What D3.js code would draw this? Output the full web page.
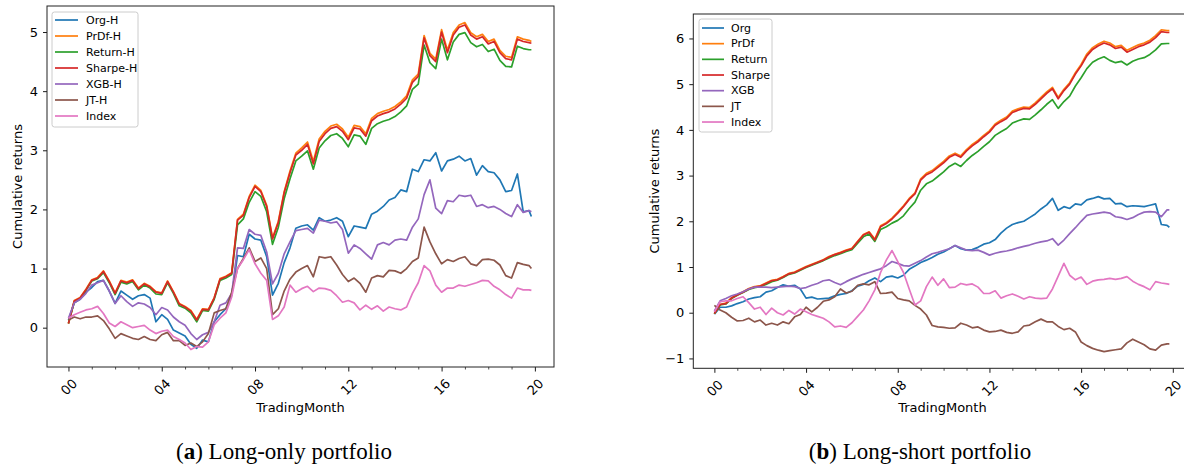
<!DOCTYPE html>
<html>
<head>
<meta charset="utf-8">
<script src="https://cdn.jsdelivr.net/npm/d3@7"></script>
<style>
  html, body { margin: 0; padding: 0; background: #fff; }
  svg { display: block; }
</style>
</head>
<body>
<svg id="chart" width="1184" height="465"></svg>
<script>
// Trading-month grid (quarter-month steps, last point at the final trading day)
const months = d3.range(0, 20, 0.25).concat([19.85]);
const tickMonths = [0, 4, 8, 12, 16, 20];
const tickLabels = ["00", "04", "08", "12", "16", "20"];
const minorMonths = d3.range(1, 20).filter(m => m % 4 !== 0);

const longOnlyNames = ["Org-H", "PrDf-H", "Return-H", "Sharpe-H", "XGB-H", "JT-H", "Index"];
const longShortNames = ["Org", "PrDf", "Return", "Sharpe", "XGB", "JT", "Index"];
const seriesColors = ["#1f77b4", "#ff7f0e", "#2ca02c", "#d62728", "#9467bd", "#8c564b", "#e377c2"];

const longOnlyYTicks = [0, 1, 2, 3, 4, 5];
const longShortYTicks = [-1, 0, 1, 2, 3, 4, 5, 6];

// ---- Long-only portfolio: cumulative returns ----
const longOnlyOrg = [
  0.13, 0.42, 0.48, 0.60, 0.68, 0.78, 0.80, 0.62, 0.41, 0.62,
  0.55, 0.48, 0.54, 0.56, 0.50, 0.10, 0.22, 0.14, -0.04, -0.09,
  -0.14, -0.28, -0.35, -0.21, -0.24, 0.10, 0.22, 0.32, 0.55, 1.22,
  1.20, 1.58, 1.50, 1.48, 1.20, 0.55, 0.75, 1.10, 1.35, 1.68,
  1.72, 1.74, 1.65, 1.86, 1.80, 1.82, 1.86, 1.80, 1.54, 1.72,
  1.70, 1.68, 1.92, 1.97, 2.05, 2.16, 2.20, 2.33, 2.30, 2.68,
  2.64, 2.84, 2.82, 2.96, 2.65, 2.82, 2.85, 2.90, 2.82, 2.86,
  2.58, 2.74, 2.64, 2.62, 2.50, 2.30, 2.32, 2.60, 1.96, 1.98,
  1.88
];
const longOnlyPrDf = [
  0.07, 0.46, 0.51, 0.65, 0.81, 0.85, 0.96, 0.79, 0.59, 0.80,
  0.77, 0.81, 0.67, 0.75, 0.70, 0.61, 0.59, 0.79, 0.61, 0.41,
  0.36, 0.29, 0.14, 0.32, 0.31, 0.51, 0.83, 0.87, 0.93, 1.83,
  1.92, 2.22, 2.41, 2.32, 2.07, 1.52, 1.80, 2.30, 2.65, 2.95,
  3.04, 3.14, 2.81, 3.19, 3.32, 3.41, 3.44, 3.36, 3.22, 3.42,
  3.40, 3.28, 3.54, 3.62, 3.66, 3.69, 3.74, 3.82, 3.92, 4.19,
  4.29, 4.94, 4.64, 4.54, 5.04, 4.69, 4.99, 5.12, 5.16, 4.99,
  4.92, 4.96, 4.84, 4.88, 4.69, 4.59, 4.57, 4.92, 4.88, 4.86,
  4.84
];
const longOnlyReturn = [
  0.07, 0.44, 0.49, 0.63, 0.79, 0.83, 0.93, 0.76, 0.56, 0.77,
  0.74, 0.78, 0.64, 0.72, 0.67, 0.57, 0.56, 0.76, 0.58, 0.37,
  0.33, 0.25, 0.10, 0.29, 0.28, 0.48, 0.80, 0.84, 0.90, 1.74,
  1.84, 2.12, 2.30, 2.22, 1.96, 1.41, 1.70, 2.18, 2.52, 2.82,
  2.90, 2.99, 2.68, 3.04, 3.16, 3.25, 3.28, 3.20, 3.06, 3.26,
  3.24, 3.10, 3.37, 3.45, 3.49, 3.52, 3.57, 3.65, 3.75, 4.03,
  4.12, 4.78, 4.48, 4.38, 4.88, 4.53, 4.83, 4.96, 4.99, 4.82,
  4.75, 4.79, 4.67, 4.71, 4.52, 4.42, 4.41, 4.76, 4.72, 4.70,
  4.70
];
const longOnlySharpe = [
  0.07, 0.45, 0.50, 0.64, 0.80, 0.84, 0.95, 0.78, 0.58, 0.79,
  0.76, 0.80, 0.66, 0.74, 0.69, 0.60, 0.58, 0.78, 0.60, 0.40,
  0.35, 0.28, 0.13, 0.31, 0.30, 0.50, 0.82, 0.86, 0.92, 1.82,
  1.90, 2.20, 2.39, 2.30, 2.05, 1.50, 1.78, 2.28, 2.62, 2.92,
  3.00, 3.10, 2.77, 3.15, 3.28, 3.37, 3.40, 3.32, 3.18, 3.38,
  3.36, 3.24, 3.50, 3.58, 3.62, 3.65, 3.70, 3.78, 3.88, 4.15,
  4.25, 4.90, 4.60, 4.50, 5.00, 4.65, 4.95, 5.08, 5.12, 4.95,
  4.88, 4.92, 4.80, 4.84, 4.65, 4.55, 4.53, 4.88, 4.84, 4.82,
  4.81
];
const longOnlyXGB = [
  0.16, 0.42, 0.48, 0.58, 0.72, 0.76, 0.80, 0.62, 0.41, 0.54,
  0.44, 0.36, 0.42, 0.40, 0.34, 0.22, 0.34, 0.30, 0.18, 0.10,
  0.04, -0.10, -0.20, -0.12, -0.08, 0.10, 0.38, 0.42, 0.58, 1.35,
  1.34, 1.66, 1.58, 1.56, 1.28, 0.74, 0.92, 1.25, 1.45, 1.64,
  1.66, 1.68, 1.60, 1.82, 1.80, 1.77, 1.79, 1.66, 1.26, 1.40,
  1.34, 1.25, 1.16, 1.40, 1.44, 1.40, 1.48, 1.50, 1.48, 1.70,
  1.84, 2.25, 2.50, 2.02, 1.93, 2.15, 2.13, 2.24, 2.22, 2.24,
  2.05, 2.08, 2.03, 2.05, 2.00, 1.93, 1.88, 2.08, 1.95, 1.98,
  1.96
];
const longOnlyJT = [
  0.13, 0.18, 0.15, 0.18, 0.18, 0.20, 0.12, -0.02, -0.18, -0.10,
  -0.14, -0.18, -0.20, -0.15, -0.20, -0.22, -0.12, -0.08, -0.22, -0.22,
  -0.30, -0.26, -0.32, -0.24, -0.10, 0.25, 0.29, 0.32, 0.60, 1.00,
  1.17, 1.35, 1.12, 1.18, 1.00, 0.22, 0.32, 0.62, 0.82, 0.94,
  1.00, 1.05, 0.86, 1.20, 1.18, 1.20, 1.06, 0.90, 0.78, 0.84,
  0.75, 0.60, 0.84, 0.88, 0.86, 0.97, 0.96, 0.92, 1.00, 1.12,
  1.18, 1.70, 1.45, 1.25, 1.08, 1.15, 1.12, 1.17, 1.20, 1.08,
  1.05, 1.15, 1.16, 1.14, 1.06, 0.88, 0.84, 1.10, 1.07, 1.05,
  1.00
];
const longOnlyIndex = [
  0.16, 0.22, 0.26, 0.30, 0.32, 0.36, 0.24, 0.08, 0.02, 0.10,
  0.05, 0.00, 0.02, 0.04, -0.04, -0.10, -0.06, -0.04, -0.15, -0.20,
  -0.26, -0.37, -0.32, -0.33, -0.24, 0.05, 0.16, 0.25, 0.52, 1.00,
  1.15, 1.32, 1.08, 0.92, 0.80, 0.14, 0.20, 0.35, 0.72, 0.60,
  0.66, 0.70, 0.61, 0.67, 0.66, 0.63, 0.54, 0.43, 0.46, 0.42,
  0.30, 0.38, 0.31, 0.37, 0.28, 0.35, 0.32, 0.30, 0.35, 0.58,
  0.76, 1.05, 0.96, 0.72, 0.60, 0.67, 0.67, 0.72, 0.70, 0.73,
  0.76, 0.80, 0.79, 0.70, 0.64, 0.56, 0.50, 0.67, 0.64, 0.64,
  0.63
];

// ---- Long-short portfolio: cumulative returns ----
const longShortOrg = [
  -0.03, 0.12, 0.12, 0.15, 0.20, 0.24, 0.30, 0.33, 0.35, 0.45,
  0.48, 0.55, 0.61, 0.58, 0.60, 0.52, 0.32, 0.34, 0.30, 0.31,
  0.32, 0.37, 0.40, 0.42, 0.48, 0.58, 0.62, 0.70, 0.76, 0.68,
  0.78, 0.80, 0.76, 0.82, 0.95, 1.02, 1.10, 1.15, 1.21, 1.28,
  1.33, 1.40, 1.47, 1.40, 1.37, 1.38, 1.43, 1.50, 1.53, 1.60,
  1.74, 1.85, 1.93, 1.97, 2.00, 2.08, 2.16, 2.27, 2.36, 2.50,
  2.24, 2.32, 2.28, 2.38, 2.36, 2.47, 2.50, 2.54, 2.49, 2.50,
  2.38, 2.39, 2.32, 2.34, 2.33, 2.32, 2.35, 2.38, 1.93, 1.91,
  1.87
];
const longShortPrDf = [
  -0.02, 0.18, 0.21, 0.33, 0.40, 0.46, 0.53, 0.57, 0.59, 0.65,
  0.71, 0.73, 0.79, 0.86, 0.89, 0.95, 1.01, 1.06, 1.11, 1.16,
  1.23, 1.28, 1.32, 1.37, 1.41, 1.56, 1.71, 1.77, 1.61, 1.90,
  1.97, 2.07, 2.20, 2.34, 2.50, 2.62, 2.93, 3.05, 3.11, 3.21,
  3.31, 3.43, 3.49, 3.43, 3.57, 3.68, 3.77, 3.88, 3.98, 4.13,
  4.21, 4.28, 4.41, 4.46, 4.50, 4.49, 4.59, 4.71, 4.83, 4.93,
  4.71, 4.89, 5.03, 5.25, 5.43, 5.66, 5.80, 5.88, 5.94, 5.90,
  5.82, 5.85, 5.74, 5.80, 5.86, 5.90, 5.96, 6.06, 6.19, 6.17,
  6.17
];
const longShortReturn = [
  -0.02, 0.17, 0.19, 0.31, 0.38, 0.44, 0.51, 0.55, 0.57, 0.62,
  0.68, 0.71, 0.77, 0.84, 0.87, 0.93, 0.99, 1.04, 1.09, 1.14,
  1.20, 1.25, 1.29, 1.34, 1.38, 1.52, 1.66, 1.72, 1.56, 1.82,
  1.88, 1.96, 2.02, 2.12, 2.28, 2.42, 2.68, 2.82, 2.88, 2.98,
  3.08, 3.20, 3.27, 3.20, 3.33, 3.44, 3.53, 3.64, 3.74, 3.88,
  3.96, 4.03, 4.15, 4.20, 4.24, 4.23, 4.33, 4.44, 4.56, 4.66,
  4.47, 4.62, 4.74, 4.96, 5.14, 5.34, 5.48, 5.55, 5.60, 5.52,
  5.47, 5.50, 5.42, 5.50, 5.55, 5.58, 5.65, 5.75, 5.88, 5.89,
  5.89
];
const longShortSharpe = [
  -0.02, 0.18, 0.20, 0.32, 0.39, 0.45, 0.52, 0.56, 0.58, 0.64,
  0.70, 0.72, 0.78, 0.85, 0.88, 0.94, 1.00, 1.05, 1.10, 1.15,
  1.22, 1.27, 1.31, 1.36, 1.40, 1.55, 1.70, 1.76, 1.59, 1.88,
  1.95, 2.05, 2.18, 2.32, 2.48, 2.60, 2.90, 3.02, 3.08, 3.18,
  3.28, 3.40, 3.46, 3.40, 3.54, 3.65, 3.74, 3.85, 3.95, 4.10,
  4.18, 4.25, 4.38, 4.43, 4.47, 4.46, 4.56, 4.68, 4.80, 4.90,
  4.68, 4.86, 5.00, 5.22, 5.40, 5.62, 5.76, 5.84, 5.90, 5.86,
  5.78, 5.81, 5.70, 5.76, 5.82, 5.86, 5.92, 6.02, 6.15, 6.13,
  6.13
];
const longShortXGB = [
  0.04, 0.26, 0.31, 0.37, 0.41, 0.46, 0.52, 0.56, 0.56, 0.56,
  0.55, 0.56, 0.57, 0.58, 0.57, 0.53, 0.55, 0.60, 0.64, 0.70,
  0.72, 0.66, 0.61, 0.68, 0.74, 0.79, 0.84, 0.88, 0.92, 0.96,
  1.03, 1.12, 1.08, 1.03, 1.02, 1.08, 1.14, 1.22, 1.29, 1.32,
  1.36, 1.40, 1.47, 1.42, 1.37, 1.36, 1.37, 1.32, 1.26, 1.30,
  1.33, 1.35, 1.38, 1.42, 1.45, 1.48, 1.52, 1.55, 1.57, 1.62,
  1.48, 1.59, 1.73, 1.86, 2.00, 2.13, 2.16, 2.18, 2.20, 2.18,
  2.10, 2.08, 2.04, 2.08, 2.15, 2.20, 2.21, 2.20, 2.10, 2.25,
  2.25
];
const longShortJT = [
  0.16, 0.06, 0.00, -0.10, -0.18, -0.17, -0.12, -0.20, -0.16, -0.27,
  -0.23, -0.27, -0.20, -0.24, -0.09, -0.04, 0.12, 0.02, 0.12, 0.25,
  0.28, 0.35, 0.52, 0.43, 0.47, 0.60, 0.63, 0.61, 0.68, 0.42,
  0.43, 0.45, 0.31, 0.28, 0.26, 0.16, 0.08, -0.05, -0.28, -0.31,
  -0.32, -0.34, -0.33, -0.23, -0.27, -0.33, -0.31, -0.38, -0.42, -0.41,
  -0.38, -0.43, -0.45, -0.42, -0.29, -0.27, -0.20, -0.14, -0.20, -0.20,
  -0.30, -0.37, -0.34, -0.42, -0.64, -0.72, -0.78, -0.82, -0.85, -0.83,
  -0.81, -0.79, -0.66, -0.58, -0.64, -0.70, -0.79, -0.82, -0.71, -0.68,
  -0.68
];
const longShortIndex = [
  0.02, 0.24, 0.26, 0.26, 0.31, 0.35, 0.22, 0.08, 0.12, -0.04,
  0.10, 0.00, -0.05, 0.05, -0.03, 0.08, 0.02, -0.04, -0.08, -0.12,
  -0.20, -0.31, -0.29, -0.32, -0.22, -0.08, 0.06, 0.26, 0.50, 0.88,
  1.15, 1.36, 1.12, 0.88, 0.52, 0.17, 0.26, 0.57, 0.78, 0.60,
  0.74, 0.55, 0.56, 0.64, 0.61, 0.63, 0.56, 0.42, 0.42, 0.48,
  0.32, 0.37, 0.41, 0.36, 0.30, 0.35, 0.32, 0.31, 0.32, 0.52,
  0.80, 1.08, 0.82, 0.72, 0.78, 0.62, 0.69, 0.72, 0.73, 0.75,
  0.73, 0.75, 0.79, 0.69, 0.62, 0.57, 0.50, 0.68, 0.65, 0.63,
  0.62
];

const panels = [
  {
    names: longOnlyNames,
    series: [longOnlyOrg, longOnlyPrDf, longOnlyReturn, longOnlySharpe, longOnlyXGB, longOnlyJT, longOnlyIndex],
    yTicks: longOnlyYTicks,
    frame: { left: 47, right: 554, top: 6, bottom: 367 },
    xDomain: [-0.92, 20.82],
    yDomain: [-0.665, 5.44],
    yLabelX: 17,
    legend: { x: 52, y: 12, w: 86, h: 115, first: 20, step: 16, l0: 55, l1: 78, tx: 86 },
    caption: { x: 284, bold: "a", rest: " Long-only portfolio" }
  },
  {
    names: longShortNames,
    series: [longShortOrg, longShortPrDf, longShortReturn, longShortSharpe, longShortXGB, longShortJT, longShortIndex],
    yTicks: longShortYTicks,
    frame: { left: 693.3, right: 1191.6, top: 14, bottom: 368.3 },
    xDomain: [-0.92, 20.82],
    yDomain: [-1.216, 6.535],
    yLabelX: 654,
    legend: { x: 699, y: 19, w: 73, h: 113, first: 28, step: 15.67, l0: 702, l1: 724, tx: 731 },
    caption: { x: 920, bold: "b", rest: " Long-short portfolio" }
  }
];

const svg = d3.select("#chart");
svg.append("rect").attr("width", 1184).attr("height", 465).attr("fill", "#fff");

const FONT = "DejaVu Sans, sans-serif";
const intFormat = d3.format("d");

panels.forEach(p => {
  const f = p.frame;
  const x = d3.scaleLinear().domain(p.xDomain).range([f.left, f.right]);
  const y = d3.scaleLinear().domain(p.yDomain).range([f.bottom, f.top]);
  const g = svg.append("g");

  // series lines
  const line = d3.line().x((d, i) => x(months[i])).y(d => y(d));
  p.series.forEach((vals, k) => {
    g.append("path")
      .datum(vals)
      .attr("d", line)
      .attr("fill", "none")
      .attr("stroke", seriesColors[k])
      .attr("stroke-width", 1.7)
      .attr("stroke-linejoin", "round")
      .attr("stroke-linecap", "butt");
  });

  // x axis: major ticks with rotated labels
  const xAxis = g.append("g")
    .attr("transform", `translate(0,${f.bottom})`)
    .call(d3.axisBottom(x).tickValues(tickMonths)
      .tickFormat((d, i) => tickLabels[i]).tickSize(4.5).tickSizeOuter(0));
  xAxis.select(".domain").remove();
  xAxis.selectAll(".tick line").attr("stroke", "#000").attr("stroke-width", 0.9);
  xAxis.selectAll(".tick text")
    .attr("y", null).attr("dy", null)
    .attr("text-anchor", "middle")
    .attr("dominant-baseline", "central")
    .attr("transform", "translate(0,20) rotate(-45)")
    .attr("font-family", FONT).attr("font-size", 13).attr("fill", "#000");

  // x axis: minor monthly ticks
  const xMinor = g.append("g")
    .attr("transform", `translate(0,${f.bottom})`)
    .call(d3.axisBottom(x).tickValues(minorMonths).tickFormat("").tickSize(2.5).tickSizeOuter(0));
  xMinor.select(".domain").remove();
  xMinor.selectAll(".tick line").attr("stroke", "#000").attr("stroke-width", 0.7);

  // y axis
  const yAxis = g.append("g")
    .attr("transform", `translate(${f.left},0)`)
    .call(d3.axisLeft(y).tickValues(p.yTicks).tickFormat(intFormat)
      .tickSize(4).tickPadding(5).tickSizeOuter(0));
  yAxis.select(".domain").remove();
  yAxis.selectAll(".tick line").attr("stroke", "#000").attr("stroke-width", 0.9);
  yAxis.selectAll(".tick text")
    .attr("font-family", FONT).attr("font-size", 13).attr("fill", "#000");

  // axes frame
  g.append("rect")
    .attr("x", f.left).attr("y", f.top)
    .attr("width", f.right - f.left).attr("height", f.bottom - f.top)
    .attr("fill", "none").attr("stroke", "#222").attr("stroke-width", 1);

  // axis titles
  g.append("text")
    .attr("x", (f.left + f.right) / 2).attr("y", 412)
    .attr("text-anchor", "middle")
    .attr("font-family", FONT).attr("font-size", 13).attr("fill", "#000")
    .text("TradingMonth");
  g.append("text")
    .attr("transform", `translate(${p.yLabelX},${(f.top + f.bottom) / 2}) rotate(-90)`)
    .attr("text-anchor", "middle").attr("dominant-baseline", "central")
    .attr("font-family", FONT).attr("font-size", 13).attr("fill", "#000")
    .text("Cumulative returns");

  // legend
  const L = p.legend;
  const lg = g.append("g");
  lg.append("rect")
    .attr("x", L.x).attr("y", L.y).attr("width", L.w).attr("height", L.h)
    .attr("rx", 2.5)
    .attr("fill", "#fff").attr("fill-opacity", 0.8)
    .attr("stroke", "#cccccc").attr("stroke-width", 1);
  p.names.forEach((name, k) => {
    const cy = L.first + k * L.step;
    lg.append("line")
      .attr("x1", L.l0).attr("x2", L.l1).attr("y1", cy).attr("y2", cy)
      .attr("stroke", seriesColors[k]).attr("stroke-width", 1.7);
    lg.append("text")
      .attr("x", L.tx).attr("y", cy)
      .attr("dominant-baseline", "central")
      .attr("font-family", FONT).attr("font-size", 11).attr("fill", "#000")
      .text(name);
  });

  // caption
  const cap = svg.append("text")
    .attr("x", p.caption.x).attr("y", 459)
    .attr("text-anchor", "middle")
    .attr("font-family", "Liberation Serif, Times New Roman, serif")
    .attr("font-size", 23).attr("fill", "#000");
  cap.append("tspan").text("(");
  cap.append("tspan").attr("font-weight", "bold").text(p.caption.bold);
  cap.append("tspan").text(")" + p.caption.rest);
});
</script>
</body>
</html>
